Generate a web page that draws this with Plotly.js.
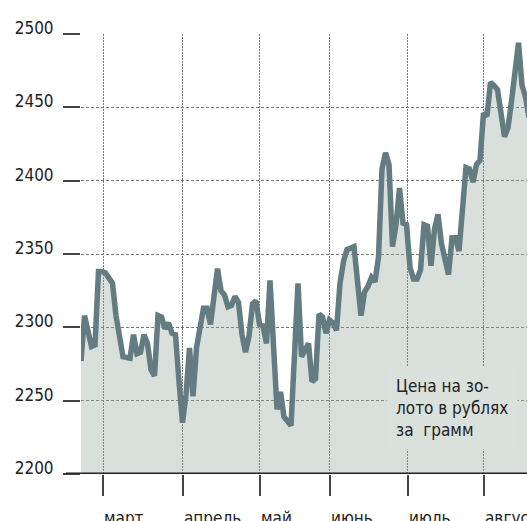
<!DOCTYPE html>
<html>
<head>
<meta charset="utf-8">
<script src="https://cdn.plot.ly/plotly-3.0.1.min.js"></script>
<style>html,body{margin:0;padding:0;background:#fff;}#chart{width:527px;height:521px;}</style>
</head>
<body>
<div id="chart"></div>
<script>
// Trading-day index (x) and gold price, rubles per gram (y)
const days = [0,1,3,4,5,6,7,9,10,12,14,15,16,17,18,19,20,21,22,23,24,25,26,27,28,29,30,31,32,33,35,36,37,38,39,40,41,42,43,44,45,46,47,48,49,50,51,52,53,54,56,57,58,60,62,63,65,66,67,68,69,70,71,72,73,74,75,76,78,80,81,82,83,84,85,86,87,88,89,90,91,92,93,94,95,96,97,98,99,100,101,102,103,105,106,107,108,110,111,112,113,114,115,116,117,118,119,121,122,123,125,126,127,128];
const prices = [2277,2308,2287,2288,2338,2338,2337,2330,2308,2280,2279,2295,2282,2283,2295,2289,2271,2267,2308,2307,2299,2303,2296,2295,2263,2235,2254,2286,2253,2286,2313,2313,2302,2324,2340,2325,2322,2314,2315,2321,2317,2295,2283,2294,2316,2318,2302,2301,2289,2332,2244,2256,2239,2233,2330,2280,2289,2263,2265,2309,2307,2296,2305,2303,2298,2330,2345,2353,2355,2308,2324,2328,2334,2331,2348,2408,2419,2411,2355,2370,2395,2371,2370,2341,2333,2333,2339,2370,2369,2342,2367,2377,2357,2336,2361,2361,2352,2409,2408,2399,2411,2414,2446,2444,2467,2465,2462,2430,2436,2454,2494,2465,2457,2443];
const monthPos = [6.3, 29.1, 51.1, 71.1, 93.4, 115.1];
const monthNames = ['март','апрель','май','июнь','июль','август'];
const yTicks = [2200, 2250, 2300, 2350, 2400, 2450, 2500];
const noteText = 'Цена на зо-<br>лото в рублях<br>за  грамм';

const FONT = '"DejaVu Sans Condensed", "Liberation Sans Narrow", sans-serif';
const FS = 17;

const trace = {
  x: days, y: prices, type: 'scatter', mode: 'lines',
  line: {color: '#637c81', width: 5.5, shape: 'linear'},
  fill: 'tozeroy', fillcolor: 'rgba(146,166,155,0.35)',
  hoverinfo: 'skip'
};

const annotations = monthNames.map((m, i) => ({
  x: monthPos[i], xref: 'x', y: -0.074, yref: 'paper',
  xanchor: 'left', yanchor: 'top', showarrow: false, text: m,
  borderpad: 0,
  font: {family: FONT, size: FS, color: '#222'}
}));
annotations.push({
  x: 0.684, xref: 'paper', y: 0.245, yref: 'paper',
  xanchor: 'left', yanchor: 'top', showarrow: false, align: 'left',
  text: noteText, bgcolor: '#dae0dc', borderpad: 9,
  font: {family: FONT, size: FS, color: '#222'}
});

const layout = {
  width: 527, height: 521,
  margin: {l: 81, r: 0, t: 34, b: 47, pad: 0},
  paper_bgcolor: '#fff', plot_bgcolor: '#fff',
  showlegend: false,
  font: {family: FONT, size: FS, color: '#222'},
  xaxis: {
    range: [0, 127.43], tickmode: 'array', tickvals: monthPos,
    showticklabels: false, ticks: 'outside', ticklen: 21, tickwidth: 2, tickcolor: '#444',
    showgrid: true, gridcolor: '#777', gridwidth: 1, griddash: '2px,1px',
    zeroline: false, showline: false, fixedrange: true
  },
  yaxis: {
    range: [2200, 2500], tickmode: 'array', tickvals: yTicks,
    ticktext: yTicks.map(String),
    ticks: 'outside', ticklen: 17, tickwidth: 2, tickcolor: '#444',
    ticklabelstandoff: 6, ticklabelshift: -6,
    tickfont: {family: FONT, size: FS, color: '#222'},
    showgrid: true, gridcolor: '#777', gridwidth: 1, griddash: '3px,2px',
    zeroline: false, showline: false, fixedrange: true
  },
  shapes: [{
    type: 'line', xref: 'paper', yref: 'y', x0: -0.0336, x1: 1, y0: 2200, y1: 2200,
    line: {color: '#222', width: 3}, layer: 'above'
  }],
  annotations: annotations
};

Plotly.newPlot('chart', [trace], layout, {displayModeBar: false, staticPlot: true});
</script>
</body>
</html>
